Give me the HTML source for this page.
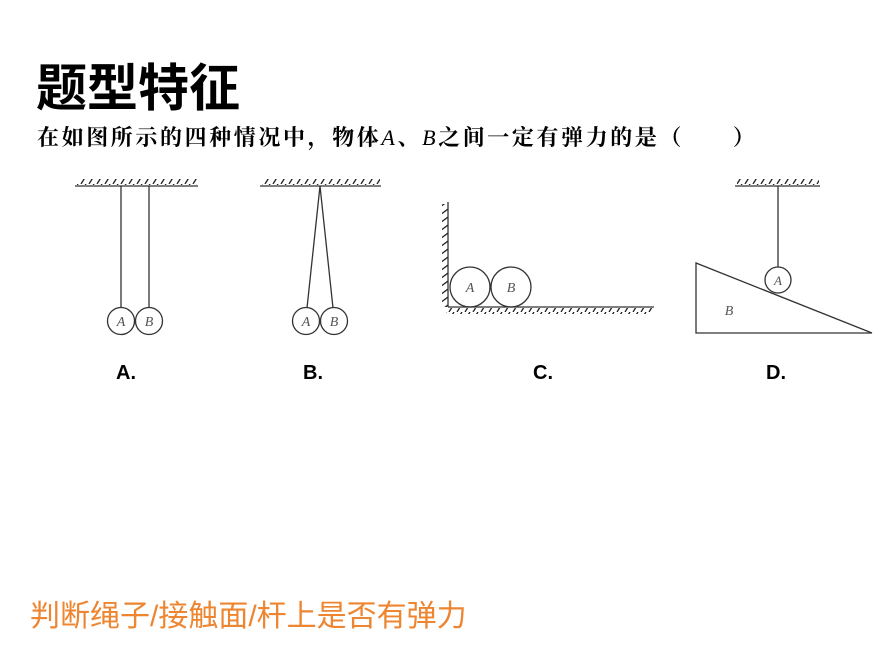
<!DOCTYPE html>
<html><head><meta charset="utf-8"><style>
body{margin:0;width:891px;height:664px;background:#fff;position:relative;overflow:hidden}
.t{position:absolute;white-space:nowrap}
</style></head><body>
<div class="t" style="left:36px;top:47px;font:bold 51px 'Liberation Sans','Noto Sans CJK SC',sans-serif;color:#000">题型特征</div>
<div class="t" style="left:37px;top:121px;font:bold 22px 'Liberation Serif','Noto Serif CJK SC',serif;color:#000;letter-spacing:2.6px">在如图所示的四种情况中，物体<i style="font-weight:normal">A</i>、<i style="font-weight:normal">B</i>之间一定有弹力的是（&nbsp;&nbsp;&nbsp;&nbsp;&nbsp;&nbsp;）</div>
<div class="t" style="left:30px;top:591px;font:30px 'Liberation Sans','Noto Sans CJK SC',sans-serif;color:#ee8530">判断绳子/接触面/杆上是否有弹力</div>
<svg width="891" height="664" style="position:absolute;left:0;top:0">
<defs>
<pattern id="h" width="8" height="8" patternUnits="userSpaceOnUse"><line x1="1" y1="8" x2="6" y2="0" stroke="#222" stroke-width="1.3"/></pattern>
<pattern id="hv" width="8" height="8" patternUnits="userSpaceOnUse"><line x1="0" y1="7" x2="8" y2="1" stroke="#222" stroke-width="1.3"/></pattern>
</defs>
<g stroke="#333" stroke-width="1.3" fill="none">
<rect x="77" y="179" width="120" height="6" fill="url(#h)" stroke="none"/>
<line x1="75" y1="186" x2="198" y2="186"/>
<line x1="121" y1="186" x2="121" y2="308"/>
<line x1="149" y1="186" x2="149" y2="308"/>
<circle cx="121" cy="321" r="13.5" fill="#fff"/>
<circle cx="149" cy="321" r="13.5" fill="#fff"/>
<rect x="262" y="179" width="118" height="6" fill="url(#h)" stroke="none"/>
<line x1="260" y1="186" x2="381" y2="186"/>
<line x1="320" y1="186" x2="307" y2="308"/>
<line x1="320" y1="186" x2="333" y2="308"/>
<circle cx="306" cy="321" r="13.5" fill="#fff"/>
<circle cx="334" cy="321" r="13.5" fill="#fff"/>
<rect x="442" y="204" width="6" height="103" fill="url(#hv)" stroke="none"/>
<rect x="446" y="308" width="206" height="6" fill="url(#h)" stroke="none"/>
<line x1="448" y1="202" x2="448" y2="307"/>
<line x1="448" y1="307" x2="654" y2="307"/>
<circle cx="470" cy="287" r="20"/>
<circle cx="511" cy="287" r="20"/>
<rect x="737" y="179" width="82" height="6" fill="url(#h)" stroke="none"/>
<line x1="735" y1="186" x2="820" y2="186"/>
<line x1="778" y1="186" x2="778" y2="267"/>
<polygon points="696,263 696,333 872,333"/>
<circle cx="778" cy="280" r="13" fill="#fff"/>
</g>
<g font-family="Liberation Serif,serif" font-style="italic" fill="#555" text-anchor="middle">
<text x="121" y="326" font-size="14">A</text><text x="149" y="326" font-size="14">B</text>
<text x="306" y="326" font-size="14">A</text><text x="334" y="326" font-size="14">B</text>
<text x="470" y="292" font-size="14">A</text><text x="511" y="292" font-size="14">B</text>
<text x="778" y="285" font-size="13">A</text><text x="729" y="315" font-size="14">B</text>
</g>
<g font-family="Liberation Sans,sans-serif" font-weight="bold" font-size="20" fill="#000">
<text x="116" y="379">A.</text><text x="303" y="379">B.</text><text x="533" y="379">C.</text><text x="766" y="379">D.</text>
</g>
</svg>
</body></html>
